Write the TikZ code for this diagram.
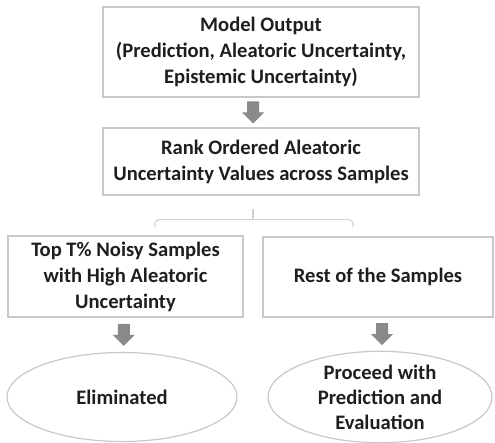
\documentclass[tikz,border=0pt]{standalone}
\usepackage{fontspec}
\setmainfont{Carlito}
\usetikzlibrary{shapes.geometric,calc}

\definecolor{boxline}{HTML}{C8C8C8}
\definecolor{arrowgray}{HTML}{8A8A8A}
\definecolor{linkgray}{HTML}{D2D2D2}
\definecolor{textdark}{HTML}{1E1E1E}

\tikzset{
  stagebox/.style={draw=boxline, line width=1.4pt, rectangle, align=center,
    text=textdark, font=\fontsize{20.6}{26}\selectfont\bfseries, inner sep=1pt},
  outcome/.style={draw=boxline, line width=1.2pt, ellipse, align=center,
    text=textdark, font=\fontsize{20.6}{25}\selectfont\bfseries, inner sep=0pt},
  downarrow/.pic={
    \fill[arrowgray] (-6,-11) -- (6,-11) -- (6,0) -- (11,0) -- (0,11)
      -- (-11,0) -- (-6,0) -- cycle;
  },
  link/.style={draw=linkgray, line width=1.1pt, rounded corners=4pt}
}

\begin{document}
\begin{tikzpicture}[x=1pt, y=-1pt]
  \useasboundingbox (0,0) rectangle (495,443);

  % pipeline stages
  \node[stagebox, minimum width=316pt, minimum height=90pt] (output) at (261,52)
    {Model Output\\(Prediction, Aleatoric Uncertainty,\\Epistemic Uncertainty)};
  \node[stagebox, minimum width=316pt, minimum height=67pt] (rank) at (261,161.5)
    {Rank Ordered Aleatoric\\Uncertainty Values across Samples};
  \node[stagebox, minimum width=235pt, minimum height=81pt] (noisy) at (125.5,276.5)
    {Top T\% Noisy Samples\\with High Aleatoric\\Uncertainty};
  \node[stagebox, minimum width=230pt, minimum height=80pt] (rest) at (378,277)
    {Rest of the Samples};

  % outcomes
  \node[outcome, minimum width=230pt, minimum height=89pt] (elim) at (122,397)
    {Eliminated};
  \node[outcome, minimum width=224pt, minimum height=89pt] (proceed) at (380,397)
    {Proceed with\\Prediction and\\Evaluation};

  % block arrows between stages
  \coordinate (m1) at ($(output.south)!0.5!(rank.north)$);
  \coordinate (m2) at ($(noisy.south)!0.5!(elim.north)$);
  \coordinate (m3) at ($(rest.south)!0.5!(proceed.north)$);
  \pic at ([xshift=-8pt]m1) {downarrow};
  \pic at (m2) {downarrow};
  \pic at ([xshift=3pt]m3) {downarrow};

  % split into the two sample groups
  \coordinate (splittop) at ([xshift=-8pt, yshift=-13pt]rank.south);
  \coordinate (splitmid) at ([xshift=-8pt, yshift=-24pt]rank.south);
  \coordinate (leftend) at (155,227);
  \coordinate (rightend) at (353,227);
  \draw[link] (leftend) -- (leftend |- splitmid) -- (rightend |- splitmid) -- (rightend);
  \draw[link] (splittop) -- (splitmid);
\end{tikzpicture}
\end{document}
